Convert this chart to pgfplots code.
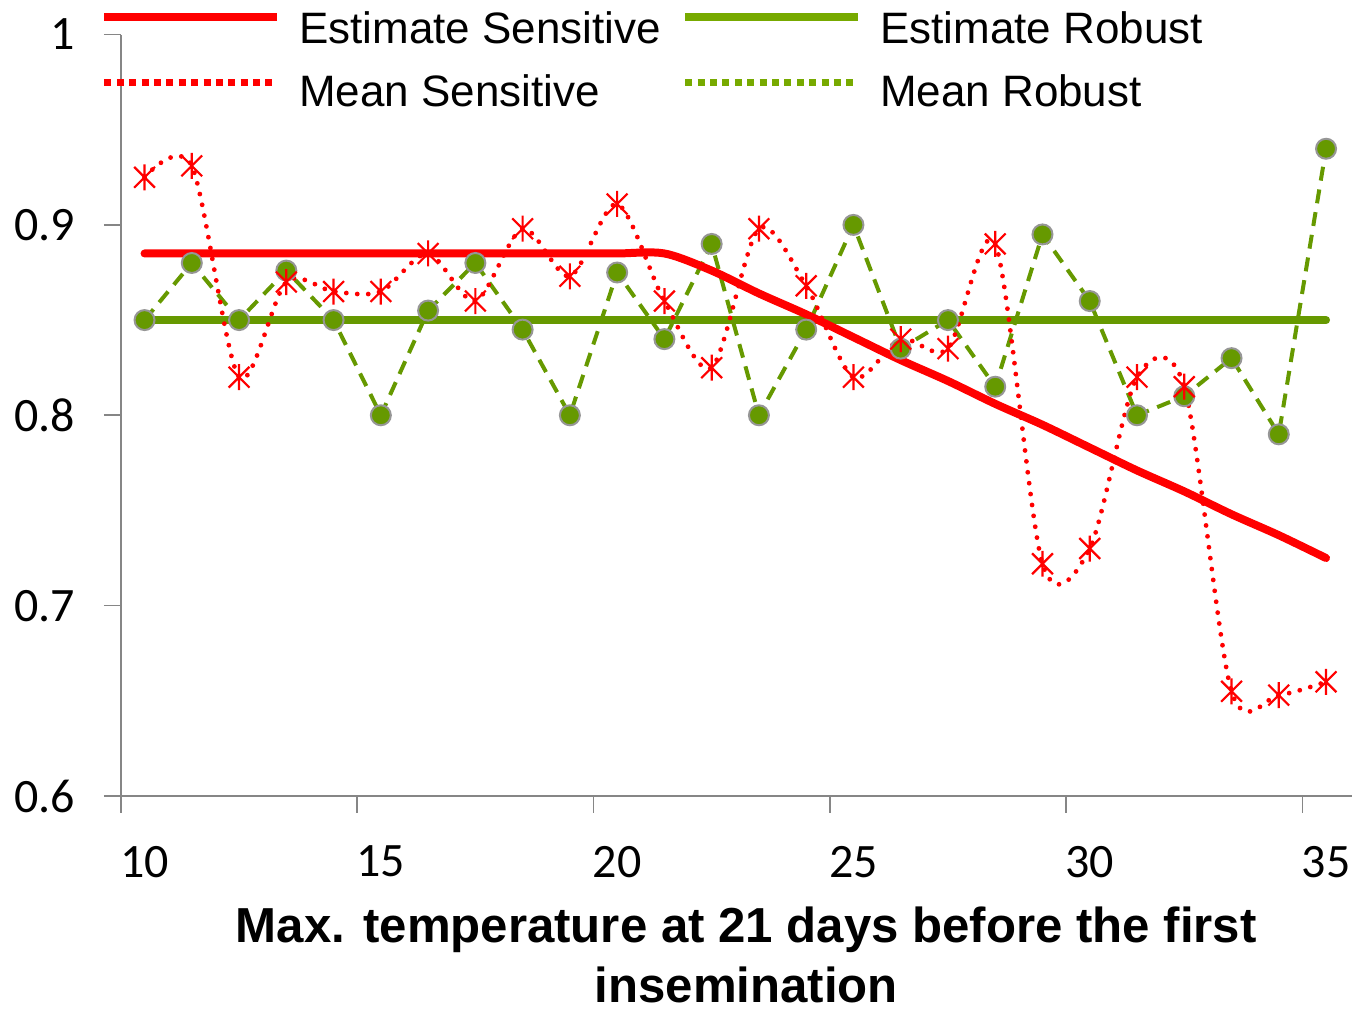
\documentclass[border=0pt]{standalone}
\usepackage{fontspec}
\setmainfont{Liberation Sans}
\newfontfamily\calibri{Carlito}
\usepackage{pgfplots}
\usepackage{pgfplotstable}
\pgfplotsset{compat=1.18}

\definecolor{sensred}{RGB}{255,0,0}
\definecolor{robgreen}{RGB}{102,153,0}
\definecolor{leggreen}{RGB}{119,170,0}
\definecolor{axgray}{RGB}{134,134,134}
\definecolor{mkgray}{RGB}{150,150,150}

% vertical bar plus a cross, like the spreadsheet's star marker
\pgfdeclareplotmark{xstar}{%
  \pgfpathmoveto{\pgfqpoint{0pt}{\pgfplotmarksize}}%
  \pgfpathlineto{\pgfqpoint{0pt}{-\pgfplotmarksize}}%
  \pgfpathmoveto{\pgfqpoint{-.8\pgfplotmarksize}{-.8\pgfplotmarksize}}%
  \pgfpathlineto{\pgfqpoint{.8\pgfplotmarksize}{.8\pgfplotmarksize}}%
  \pgfpathmoveto{\pgfqpoint{-.8\pgfplotmarksize}{.8\pgfplotmarksize}}%
  \pgfpathlineto{\pgfqpoint{.8\pgfplotmarksize}{-.8\pgfplotmarksize}}%
  \pgfusepathqstroke}

% x = max. temperature, mean values per degree, estimates
\pgfplotstableread{
x   ms     mr     es     er
10  0.925  0.850  0.885  0.85
11  0.931  0.880  0.885  0.85
12  0.820  0.850  0.885  0.85
13  0.870  0.876  0.885  0.85
14  0.865  0.850  0.885  0.85
15  0.865  0.800  0.885  0.85
16  0.885  0.855  0.885  0.85
17  0.860  0.880  0.885  0.85
18  0.898  0.845  0.885  0.85
19  0.873  0.800  0.885  0.85
20  0.911  0.875  0.885  0.85
21  0.860  0.840  0.885  0.85
22  0.825  0.890  0.876  0.85
23  0.898  0.800  0.864  0.85
24  0.868  0.845  0.853  0.85
25  0.820  0.900  0.841  0.85
26  0.840  0.835  0.829  0.85
27  0.835  0.850  0.818  0.85
28  0.890  0.815  0.806  0.85
29  0.722  0.895  0.795  0.85
30  0.730  0.860  0.783  0.85
31  0.820  0.800  0.771  0.85
32  0.815  0.810  0.760  0.85
33  0.655  0.830  0.748  0.85
34  0.653  0.790  0.737  0.85
35  0.660  0.940  0.725  0.85
}\datatable

\begin{document}
\begin{tikzpicture}
\begin{axis}[
    width=616pt, height=381pt, scale only axis,
    xmin=9.5, xmax=35.55, ymin=0.6, ymax=1,
    axis lines=left,
    axis line style={-, draw=axgray, line width=0.8pt},
    tick style={draw=axgray, line width=0.8pt},
    tick align=outside,
    major tick length=8.5pt,
    xtick={9.5,14.5,...,34.5},
    xticklabels={10,15,20,25,30,35},
    ytick={0.6,0.7,0.8,0.9,1},
    yticklabels={0.6,0.7,0.8,0.9,1},
    ticklabel style={font=\calibri\fontsize{24}{28}\selectfont},
    xticklabel style={xshift=11.82pt, yshift=-13pt},
    yticklabel style={inner sep=0pt, text width=37.5pt, align=right, xshift=-14.3pt},
    xlabel={Max. temperature at 21 days before the first\\insemination},
    xlabel style={at={(axis description cs:0.508,-0.1365)}, anchor=north,
        align=center, inner xsep=0pt, inner ysep=3.5pt,
        font=\bfseries\fontsize{24.6}{30}\selectfont},
    legend columns=2,
    legend style={at={(-0.017,1.0459)}, anchor=north west, draw=none, fill=none,
        inner sep=0pt, font=\fontsize{22}{26}\selectfont,
        nodes={inner xsep=0pt, inner ysep=0pt, text height=22pt, text depth=5pt},
        column sep=9pt, row sep=4.5pt,
        /tikz/every even column/.append style={column sep=10.2pt}},
    legend cell align=left,
]
% legend images in the order of the reference legend
\addlegendimage{legend image code/.code={\draw[sensred, line width=4pt] (0pt,5pt) -- (86.5pt,5pt);}}
\addlegendimage{legend image code/.code={\draw[leggreen, line width=4pt] (0pt,5pt) -- (86.5pt,5pt);}}
\addlegendimage{legend image code/.code={\draw[sensred, line width=3.5pt, dash pattern=on 3.5pt off 2.7pt] (0pt,3.5pt) -- (86.5pt,3.5pt);}}
\addlegendimage{legend image code/.code={\draw[leggreen, line width=3.5pt, dash pattern=on 3.5pt off 2.7pt] (0pt,3.5pt) -- (86.5pt,3.5pt);}}
\legend{Estimate Sensitive, Estimate Robust, Mean Sensitive, Mean Robust}

\addplot[forget plot, robgreen, line width=4pt, line cap=round] table[x=x, y=er] {\datatable};
\addplot[forget plot, robgreen, line width=2pt, dash pattern=on 7pt off 4.5pt,
    mark=*, mark size=5pt, mark options={solid, fill=robgreen, draw=mkgray, line width=1pt}]
    table[x=x, y=mr] {\datatable};
\addplot[forget plot, sensred, smooth, line width=2.4pt, line cap=round, dash pattern=on 0pt off 5.5pt,
    mark=xstar, mark size=6.5pt, mark options={solid, line width=1.1pt, line cap=butt}]
    table[x=x, y=ms] {\datatable};
\addplot[forget plot, sensred, smooth, line width=4pt, line cap=round] table[x=x, y=es] {\datatable};
\end{axis}
\end{tikzpicture}
\end{document}
